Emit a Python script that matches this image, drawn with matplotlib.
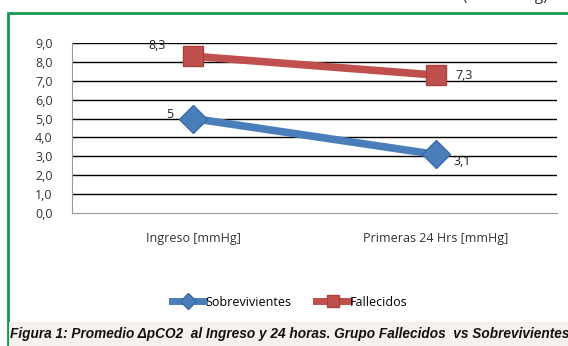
import matplotlib.pyplot as plt
from matplotlib.patches import Rectangle
from matplotlib.lines import Line2D

categories = ['Ingreso [mmHg]', 'Primeras 24 Hrs [mmHg]']
sobrevivientes = [5.0, 3.1]
fallecidos = [8.3, 7.3]
labels_sob = ['5', '3,1']
labels_fal = ['8,3', '7,3']
yticks = [0, 1, 2, 3, 4, 5, 6, 7, 8, 9]

blue = '#4a7ebb'
red = '#c0504d'
plt.rcParams['font.family'] = ['Open Sans', 'DejaVu Sans']

fig = plt.figure(figsize=(5.68, 3.46), dpi=100)
W, H = 568, 346

# green frame + caption band
fig.patches.append(Rectangle((8 / W, -0.1), 1.2, (346 - 13) / H + 0.1, transform=fig.transFigure,
                             fill=False, edgecolor='#109a50', linewidth=2))
fig.patches.append(Rectangle((9 / W, 0), 1, 24 / H, transform=fig.transFigure,
                             facecolor='#f6f1ec', edgecolor='none'))
# header text cut off by the top edge, as in the source
fig.text(0.89, 1.0 + 3 / H, '(       mmHg)', ha='center', va='center', fontsize=11, color='#333333')

ax = fig.add_axes([72 / W, 1 - 213 / H, (557 - 72) / W, (213 - 43) / H])
x = range(len(categories))
ax.plot(x, sobrevivientes, color=blue, lw=5.5, marker='D', ms=14, mfc=blue, mec='#3a6aa5',
        solid_capstyle='round', zorder=3)
ax.plot(x, fallecidos, color=red, lw=5.5, marker='s', ms=15, mfc=red, mec='#a8403d',
        solid_capstyle='round', zorder=3)

ax.set_xlim(-0.5, 1.5)
ax.set_ylim(0, 9)
ax.set_yticks(yticks)
ax.set_yticklabels([f'{v:.1f}'.replace('.', ',') for v in yticks], fontsize=9, color='#333333')
ax.set_xticks(list(x))
ax.set_xticklabels(categories, fontsize=9, color='#333333')
ax.tick_params(axis='y', length=0, pad=14)
ax.tick_params(axis='x', length=0, pad=14)
for v in yticks[1:]:
    ax.axhline(v, color='black', lw=1, zorder=1)
for s in ['top', 'right']:
    ax.spines[s].set_visible(False)
for s in ['left', 'bottom']:
    ax.spines[s].set_color('#999999')

ax.annotate(labels_fal[0], (0, fallecidos[0]), xytext=(-20, 8), textcoords='offset points',
            ha='right', va='center', fontsize=9, color='#222222')
ax.annotate(labels_sob[0], (0, sobrevivientes[0]), xytext=(-14, 3), textcoords='offset points',
            ha='right', va='center', fontsize=9, color='#222222')
ax.annotate(labels_fal[1], (1, fallecidos[1]), xytext=(14, 0), textcoords='offset points',
            ha='left', va='center', fontsize=9, color='#222222')
ax.annotate(labels_sob[1], (1, sobrevivientes[1]), xytext=(13, -5), textcoords='offset points',
            ha='left', va='center', fontsize=9, color='#222222')

handles = [Line2D([], [], color=blue, lw=5, marker='D', ms=8, mfc=blue, mec='#3a6aa5'),
           Line2D([], [], color=red, lw=5, marker='s', ms=8, mfc=red, mec='#a8403d')]
fig.legend(handles, ['Sobrevivientes', 'Fallecidos'], loc='center', bbox_to_anchor=(0.51, 1 - 302 / H),
           ncol=2, frameon=False, fontsize=9, handlelength=2.6, handletextpad=0.1, columnspacing=2.0)

fig.text(10 / W, 12 / H, 'Figura 1: Promedio ΔpCO2  al Ingreso y 24 horas. Grupo Fallecidos  vs Sobrevivientes',
         ha='left', va='center', fontsize=9.8, fontweight='bold', fontstyle='italic', color='#111111',
         family=['Liberation Sans Narrow', 'Liberation Sans', 'DejaVu Sans'])

fig.savefig('out.png', dpi=100)
